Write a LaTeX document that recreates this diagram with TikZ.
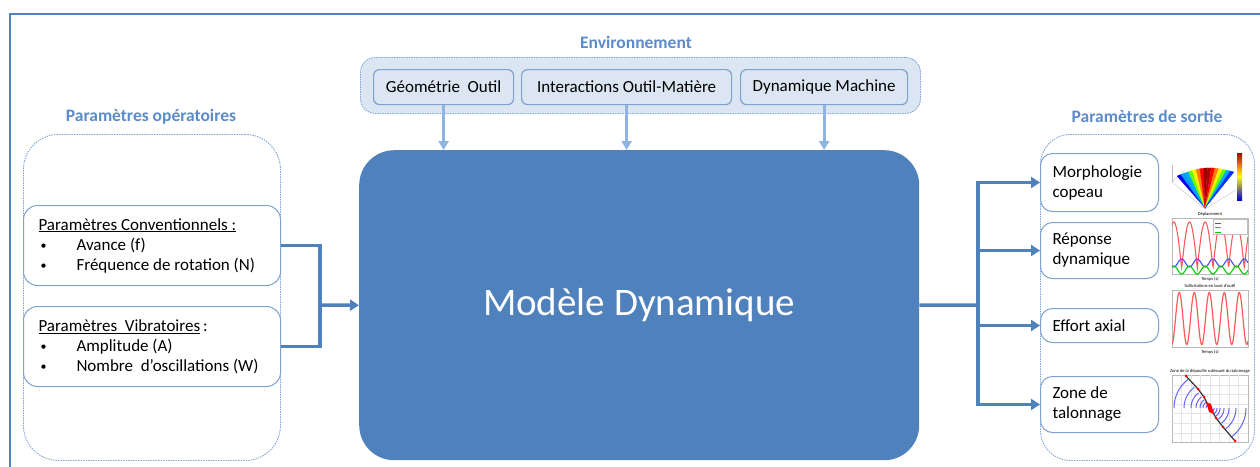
\documentclass[tikz,border=0pt]{standalone}
\usepackage{fontspec}
\setmainfont{Carlito}
\usetikzlibrary{arrows.meta}
\definecolor{mainblue}{HTML}{4F81BD}
\definecolor{titleblue}{HTML}{5B8BC9}
\definecolor{lightfill}{HTML}{DCE6F2}
\definecolor{boxline}{HTML}{7FA1D0}
\definecolor{dashblue}{HTML}{7FA6D6}
\definecolor{envarrow}{HTML}{8DB4E2}
\newcommand{\txt}{\fontsize{17}{20}\selectfont}
\newcommand{\bul}{\makebox[38pt][l]{\hspace{2pt}\raisebox{0.5pt}{\fontsize{12}{12}\selectfont•}}}
\begin{document}
\begin{tikzpicture}[x=1pt,y=-1pt,
  title/.style={font=\fontsize{17.5}{20}\selectfont\bfseries, text=titleblue, inner sep=0},
  dashbox/.style={draw=dashblue, dash pattern=on 1.5pt off 1pt, line width=0.9pt, anchor=north west, inner sep=0},
  envbox/.style={draw=boxline, line width=1.2pt, fill=lightfill, rounded corners=6, minimum height=35, inner sep=0, anchor=north west, font=\txt},
  parbox/.style={draw=boxline, line width=1pt, fill=white, rounded corners=14, anchor=north west, inner xsep=15, inner ysep=0, align=flush left, text width=227, minimum height=80, font=\txt},
  outbox/.style={draw=boxline, line width=1pt, fill=white, rounded corners=12, anchor=north west, inner xsep=12, inner ysep=0, align=flush left, text width=94, font=\txt},
  modelbox/.style={fill=mainblue, rounded corners=35, anchor=north west, minimum width=560, minimum height=310, inner sep=0, text=white, font=\fontsize{39}{44}\selectfont},
  conn/.style={draw=mainblue, line width=3.5pt},
  arr/.style={conn, -{Triangle[length=9pt,width=11pt]}},
  envarr/.style={draw=envarrow, line width=3pt, -{Triangle[length=9pt,width=10pt]}},
  axesline/.style={draw=gray!55, line width=0.3pt},
  tiny/.style={font=\fontsize{4.5}{5}\selectfont, inner sep=0}
]
\useasboundingbox (0,0) rectangle (1260,466);
% outer frame
\draw[mainblue, line width=2pt] (9.5,480) -- (9.5,14) -- (1280,14);

% titles
\node[title] (tenv) at (636,42) {Environnement};
\node[title] (top) at (151,117) {Paramètres opératoires};
\node[title] (tsort) at (1147,116) {Paramètres de sortie};

% environment
\node[dashbox, fill=lightfill, rounded corners=15, minimum width=560, minimum height=56] (env) at (360,57) {};
\node[envbox, minimum width=140] (geo) at (373,69) {Géométrie\ \ Outil};
\node[envbox, minimum width=210] (inter) at (521,69) {Interactions Outil-Matière};
\node[envbox, minimum width=167] (dyn) at (740,69) {Dynamique Machine};

% model
\node[modelbox] (model) at (359,150) {Modèle Dynamique};

\draw[envarr] (geo.south) -- (geo.south |- model.north);
\draw[envarr] (inter.south) -- (inter.south |- model.north);
\draw[envarr] (dyn.south) -- (dyn.south |- model.north);

% left container
\node[dashbox, rounded corners=35, minimum width=257, minimum height=326] (left) at (23,134) {};
\node[parbox] (conv) at (23,205) {\underline{Paramètres Conventionnels :}\\
\bul Avance (f)\\
\bul Fréquence de rotation (N)};
\node[parbox] (vib) at (23,306) {\underline{Paramètres\ \ Vibratoires}\,:\\
\bul Amplitude (A)\\
\bul Nombre\ \ d’oscillations (W)};

\coordinate (jl) at (320,305);
\draw[conn] (conv.east) -| (jl) |- (vib.east);
\draw[arr] (jl) -- (model.west);

% right container
\node[dashbox, rounded corners=30, minimum width=214, minimum height=326] (right) at (1040,134) {};
\node[outbox, minimum height=58] (out1) at (1040,153) {Morphologie\\copeau};
\node[outbox, minimum height=56] (out2) at (1040,222) {Réponse\\dynamique};
\node[outbox, minimum height=34] (out3) at (1040,308) {Effort axial};
\node[outbox, minimum height=56] (out4) at (1040,376) {Zone de\\talonnage};

\coordinate (jr) at (978,305);
\draw[conn] (model.east) -- (jr);
\draw[arr] (jr) |- (out1.west);
\draw[arr] (jr) |- (out2.west);
\draw[arr] (jr) |- (out3.west);
\draw[arr] (jr) |- (out4.west);

% ---- plot 1 : chip morphology
\draw[axesline] (1172,182) -- (1205,209) -- (1236,190);
\draw[axesline] (1172,182) -- (1172,165);
\draw[axesline] (1172,182) -- (1185,170);
\foreach \i/\c in {0/blue!90!black,1/blue!40!cyan,2/cyan,3/green!60!yellow,4/yellow,5/orange,6/red,7/red!60!black,8/red!70!black,9/red,10/orange,11/yellow,12/green!60!yellow,13/cyan,14/blue!80!cyan}{
  \pgfmathsetmacro\xa{1177+\i*57/15}
  \pgfmathsetmacro\ya{176-\i*4/15-6*sin(180*\i/15)}
  \pgfmathsetmacro\xb{1177+(\i+1)*57/15}
  \pgfmathsetmacro\yb{176-(\i+1)*4/15-6*sin(180*(\i+1)/15)}
  \fill[\c, draw=\c, line width=0.2pt] (1205,208) -- (\xa,\ya) -- (\xb,\yb) -- cycle;
}
\shade[top color=red!70!black, bottom color=blue!80!black, middle color=yellow] (1237,153) rectangle (1242,200);

% ---- plot 2 : displacement
\node[tiny] (t2) at (1210,214) {Déplacement};
\draw[axesline] (1172,218) rectangle (1248,274);
\begin{scope}
\clip (1172,218) rectangle (1248,274);
\draw[red!65, line width=1.1pt] plot[domain=0:76, samples=160] ({1172+\x},{268-46*abs(sin((\x+6)*11.5))});
\draw[blue!70, line width=1.1pt] plot[domain=0:76, samples=120] ({1172+\x},{263-4*cos((\x+6)*23)});
\draw[green!80!black, line width=1.1pt] plot[domain=0:76, samples=120] ({1172+\x},{270+4*cos((\x+6)*23)});
\end{scope}
\node[draw=gray!50, fill=white, minimum width=34, minimum height=15, inner sep=0, anchor=north east] (leg) at (1247,219) {};
\draw[blue!70, line width=0.8pt] (1215,223) -- (1221,223);
\draw[red!65, line width=0.8pt] (1215,227.5) -- (1221,227.5);
\draw[green!80!black, line width=0.8pt] (1215,232) -- (1221,232);
\node[tiny] (x2) at (1210,279) {Temps (s)};

% ---- plot 3 : axial force
\node[tiny] (t3) at (1210,286) {Sollicitations en bout d'outil};
\draw[axesline] (1172,290) rectangle (1248,347);
\begin{scope}
\clip (1172,290) rectangle (1248,347);
\draw[red!65, line width=1.2pt] plot[domain=0:76, samples=200] ({1172+\x},{318.5+26*sin((\x+4)*24)});
\end{scope}
\node[tiny] (x3) at (1210,352) {Temps (s)};

% ---- plot 4 : heel zone
\node[tiny] (t4) at (1210,371) {Zone de la dépouille subissant du talonnage};
\draw[axesline] (1172,375) rectangle (1248,442);
\foreach \g in {1,...,7}{\draw[gray!20, line width=0.2pt] ({1172+\g*9.5},375) -- ({1172+\g*9.5},442);}
\foreach \g in {1,...,6}{\draw[gray!20, line width=0.2pt] (1172,{375+\g*9.6}) -- (1248,{375+\g*9.6});}
\begin{scope}
\clip (1172,375) rectangle (1248,442);
\foreach \r in {4,7,10,14,19,26,36}{
  \draw[blue!75, opacity=0.8, line width=1pt] plot[domain=180:127, samples=20] ({1210+\r*cos(\x)},{408-\r*sin(\x)});
  \draw[blue!75, opacity=0.8, line width=1pt] plot[domain=0:-53, samples=20] ({1210+\r*cos(\x)},{408-\r*sin(\x)});
}
\end{scope}
\draw[gray!40!black, line width=1.2pt] (1186,376) -- (1198,389) -- (1204,397) -- (1208,405) -- (1212,411) -- (1216,418) -- (1223,427) -- (1235,441);
\foreach \p in {(1186,376),(1198,389),(1204,397),(1208,405),(1210,408),(1212,411),(1216,418),(1223,427),(1235,441)}{\fill[red] \p circle (1.5);}
\fill[red] (1206,402) -- (1211,404) -- (1214,414) -- (1209,412) -- cycle;
\end{tikzpicture}
\end{document}
